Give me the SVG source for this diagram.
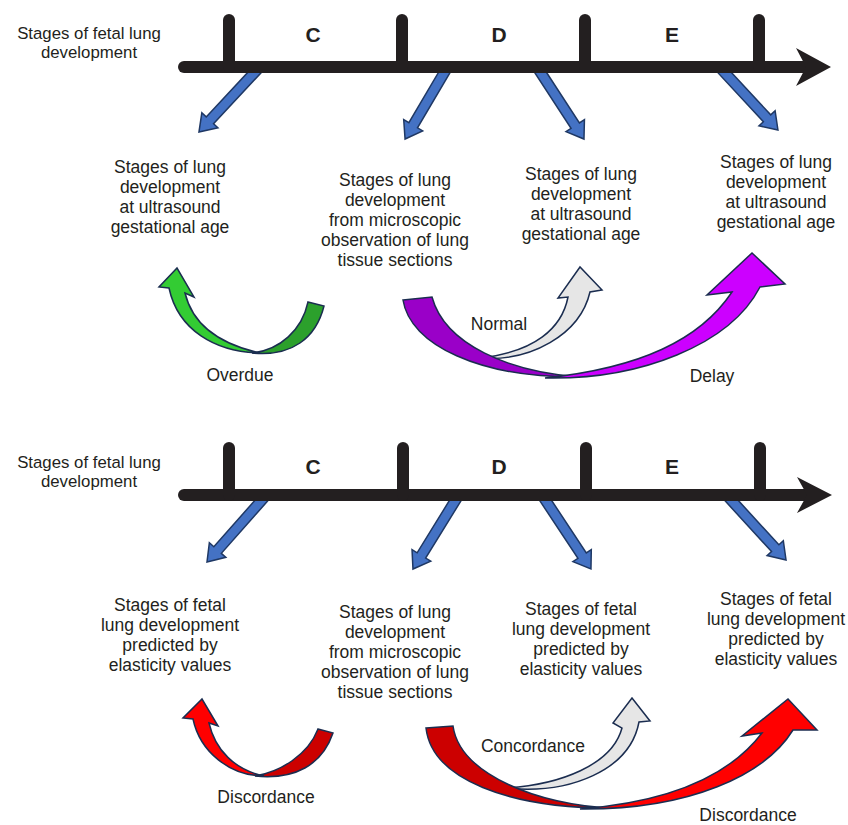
<svg xmlns="http://www.w3.org/2000/svg" width="848" height="825" viewBox="0 0 848 825">
<defs>
<style>
.t{font-family:"Liberation Sans",Arial,sans-serif;font-size:17.5px;fill:#231F20;text-anchor:middle}
.h{font-family:"Liberation Sans",Arial,sans-serif;font-size:16.8px;fill:#231F20;text-anchor:middle}
.b{font-family:"Liberation Sans",Arial,sans-serif;font-size:21px;font-weight:bold;fill:#231F20;text-anchor:middle}
.blue{fill:#4472C4;stroke:#1F3864;stroke-width:1.5;stroke-linejoin:miter}
.ax{stroke:#231F20;stroke-width:12;stroke-linecap:round;fill:none}
.ah{fill:#231F20}
.ca{stroke:#1B2D50;stroke-width:1.5;stroke-linejoin:miter}
</style>
</defs>
<rect width="848" height="825" fill="#fff"/>

<!-- connectors: blue arrows from timelines -->
<g id="connectors">
<path class="blue" d="M0,-5 H72.9 V-11 L88.9,0 L72.9,11 V5 H0 Z" transform="translate(259.6,67) rotate(133)"/>
<path class="blue" d="M0,-5 H67.6 V-11 L83.6,0 L67.6,11 V5 H0 Z" transform="translate(447.5,67) rotate(120.5)"/>
<path class="blue" d="M0,-5 H70 V-11 L86,0 L70,11 V5 H0 Z" transform="translate(537,67) rotate(56.9)"/>
<path class="blue" d="M0,-5 H70 V-11 L86,0 L70,11 V5 H0 Z" transform="translate(719.4,67) rotate(47.1)"/>
<path class="blue" d="M0,-5 H73.5 V-11 L89.5,0 L73.5,11 V5 H0 Z" transform="translate(266.3,495) rotate(131.5)"/>
<path class="blue" d="M0,-5 H71 V-11 L87,0 L71,11 V5 H0 Z" transform="translate(458.7,495) rotate(121.7)"/>
<path class="blue" d="M0,-5 H72.7 V-11 L88.7,0 L72.7,11 V5 H0 Z" transform="translate(542,495) rotate(56.5)"/>
<path class="blue" d="M0,-5 H72.1 V-11 L88.1,0 L72.1,11 V5 H0 Z" transform="translate(726.5,495) rotate(47.5)"/>
</g>

<!-- top timeline -->
<g id="timeline-top">
<line class="ax" x1="184" y1="67" x2="805" y2="67"/>
<line class="ax" x1="229" y1="20" x2="229" y2="67"/>
<line class="ax" x1="402" y1="20" x2="402" y2="67"/>
<line class="ax" x1="585" y1="20" x2="585" y2="67"/>
<line class="ax" x1="759" y1="20" x2="759" y2="67"/>
<polygon class="ah" points="796,48 831,67 796,86 806,67"/>
<text class="h" x="89" y="39">Stages of fetal lung</text>
<text class="h" x="89" y="58">development</text>
<text class="b" x="313" y="42">C</text>
<text class="b" x="499" y="42">D</text>
<text class="b" x="672" y="42">E</text>
</g>

<g id="top-us1"><text class="t" x="170"><tspan x="170" y="173">Stages of lung</tspan><tspan x="170" y="193">development</tspan><tspan x="170" y="213">at ultrasound</tspan><tspan x="170" y="233">gestational age</tspan></text></g>
<g id="top-micro"><text class="t" x="395"><tspan x="395" y="186">Stages of lung</tspan><tspan x="395" y="206">development</tspan><tspan x="395" y="226">from microscopic</tspan><tspan x="395" y="246">observation of lung</tspan><tspan x="395" y="266">tissue sections</tspan></text></g>
<g id="top-us2"><text class="t" x="581"><tspan x="581" y="180">Stages of lung</tspan><tspan x="581" y="200">development</tspan><tspan x="581" y="220">at ultrasound</tspan><tspan x="581" y="240">gestational age</tspan></text></g>
<g id="top-us3"><text class="t" x="776"><tspan x="776" y="168">Stages of lung</tspan><tspan x="776" y="188">development</tspan><tspan x="776" y="208">at ultrasound</tspan><tspan x="776" y="228">gestational age</tspan></text></g>

<!-- top curved arrows -->
<g id="top-overdue">
<path class="ca" fill="#2CA02C" d="M308,302 L324,306 C316,338 292,357 252,353 C280,350 302,330 308,302 Z"/>
<path class="ca" fill="#33CC33" d="M169,288 L159,287 L177,268 L194,297 L185,293 C192,322 215,343 260,353 C215,352 178,330 169,288 Z"/>
<text class="t" x="240" y="381">Overdue</text>
</g>
<g id="top-normal">
<path class="ca" fill="#E6E6E6" d="M480,358 C530,362 580,335 590,292 L602,290 L580,267 L558,298 L568,297 C562,328 535,352 480,358 Z"/>
<text class="t" x="499" y="330">Normal</text>
</g>
<g id="top-delay">
<path class="ca" fill="#9A00C8" d="M403,300 L432,297 C445,345 510,372 580,377 C480,378 410,345 403,300 Z"/>
<path class="ca" fill="#CC00FF" d="M545,378 C640,380 730,345 760,287 L785,284 L752,253 L707,295 L732,292 C700,340 640,368 545,378 Z"/>
<text class="t" x="712" y="382">Delay</text>
</g>

<!-- bottom timeline -->
<g id="timeline-bottom">
<line class="ax" x1="184" y1="495" x2="806" y2="495"/>
<line class="ax" x1="229" y1="448" x2="229" y2="495"/>
<line class="ax" x1="403" y1="448" x2="403" y2="495"/>
<line class="ax" x1="586" y1="448" x2="586" y2="495"/>
<line class="ax" x1="760" y1="448" x2="760" y2="495"/>
<polygon class="ah" points="797,477 832,495 797,513 807,495"/>
<text class="h" x="89" y="468">Stages of fetal lung</text>
<text class="h" x="89" y="487">development</text>
<text class="b" x="313" y="474">C</text>
<text class="b" x="499" y="474">D</text>
<text class="b" x="672" y="474">E</text>
</g>

<g id="bot-el1"><text class="t" x="170"><tspan x="170" y="611">Stages of fetal</tspan><tspan x="170" y="631">lung development</tspan><tspan x="170" y="651">predicted by</tspan><tspan x="170" y="671">elasticity values</tspan></text></g>
<g id="bot-micro"><text class="t" x="395"><tspan x="395" y="618">Stages of lung</tspan><tspan x="395" y="638">development</tspan><tspan x="395" y="658">from microscopic</tspan><tspan x="395" y="678">observation of lung</tspan><tspan x="395" y="698">tissue sections</tspan></text></g>
<g id="bot-el2"><text class="t" x="581"><tspan x="581" y="615">Stages of fetal</tspan><tspan x="581" y="635">lung development</tspan><tspan x="581" y="655">predicted by</tspan><tspan x="581" y="675">elasticity values</tspan></text></g>
<g id="bot-el3"><text class="t" x="776"><tspan x="776" y="605">Stages of fetal</tspan><tspan x="776" y="625">lung development</tspan><tspan x="776" y="645">predicted by</tspan><tspan x="776" y="665">elasticity values</tspan></text></g>

<!-- bottom curved arrows -->
<g id="bot-discordance1">
<path class="ca" fill="#CC0000" d="M318,729 L333,733 C322,765 295,780 255,776 C280,772 308,755 318,729 Z"/>
<path class="ca" fill="#FF0000" d="M193,719 L183,718 L202,699 L218,726 L209,723 C215,750 235,770 264,776 C230,776 200,752 193,719 Z"/>
<text class="t" x="266" y="803">Discordance</text>
</g>
<g id="bot-concordance">
<path class="ca" fill="#E6E6E6" d="M505,788 C570,795 630,770 639,722 L650,721 L632,698 L613,723 L622,728 C612,765 560,785 505,788 Z"/>
<text class="t" x="533" y="752">Concordance</text>
</g>
<g id="bot-discordance2">
<path class="ca" fill="#CC0000" d="M426,728 L453,726 C460,775 540,805 610,808 C510,808 432,780 426,728 Z"/>
<path class="ca" fill="#FF0000" d="M580,809 C690,810 765,775 793,730 L817,730 L788,699 L742,736 L762,733 C730,775 670,802 580,809 Z"/>
<text class="t" x="748" y="821">Discordance</text>
</g>
</svg>
